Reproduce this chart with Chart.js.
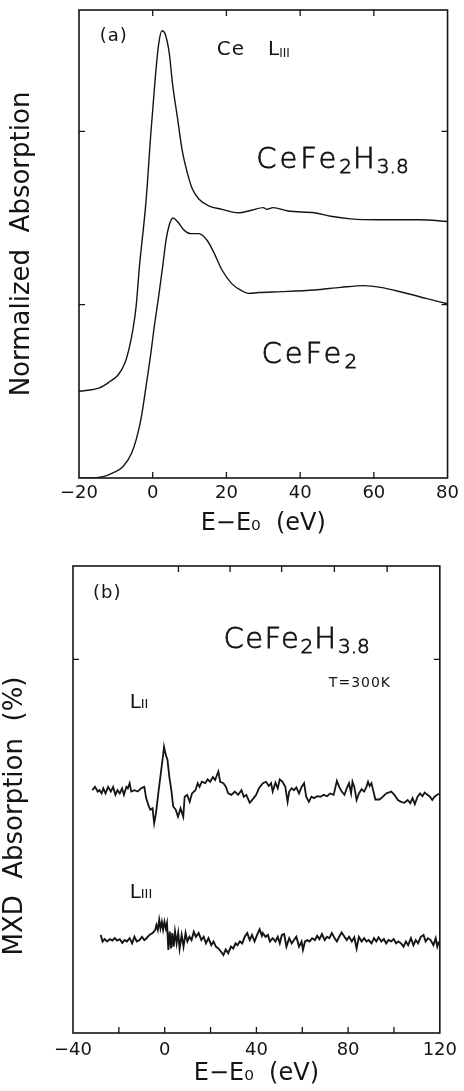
<!DOCTYPE html>
<html>
<head>
<meta charset="utf-8">
<script src="https://cdn.jsdelivr.net/npm/chart.js@4.4.1/dist/chart.umd.min.js"></script>
<style>
  html, body { margin: 0; padding: 0; background: #fff; }
  body { width: 464px; height: 1091px; position: relative; overflow: hidden; }
  .panel { position: absolute; left: 0; width: 464px; }
  #panelA { top: 0; height: 545px; }
  #panelB { top: 545px; height: 546px; }
</style>
</head>
<body>
<div class="panel" id="panelA"><canvas id="chartA"></canvas></div>
<div class="panel" id="panelB"><canvas id="chartB"></canvas></div>
<script>
// (a) Ce L_III edge, normalized absorption vs E - E0 (eV)
const hydrideE  = [-20, -14.4, -11.7, -9.4, -7.6, -6.3, -5.4, -4.5, -3.6, -1.8, -0.5, 0.7, 1.6, 2.5, 3.4,
                   4.5, 5.4, 6.7, 8.0, 9.4, 10.7, 12.5, 15.2, 18.8, 23.3, 26.8, 30.0, 31.0, 32.7, 36.7,
                   43.9, 48.3, 53.7, 61.8, 72.5, 80];
const hydrideMu = [0.50, 0.52, 0.555, 0.594, 0.66, 0.757, 0.853, 0.99, 1.22, 1.60, 1.99, 2.31, 2.50, 2.58, 2.56,
                   2.45, 2.27, 2.08, 1.89, 1.76, 1.67, 1.61, 1.57, 1.55, 1.53, 1.545, 1.56, 1.55, 1.56, 1.54,
                   1.53, 1.51, 1.495, 1.49, 1.49, 1.48];

const cefe2E  = [-20, -17, -13.5, -10.8, -8.1, -5.8, -4.5, -3.1, -1.8, -0.5, 0.4, 1.5, 2.7, 3.6, 4.5,
                 5.5, 6.7, 8.5, 10.3, 12.5, 14.8, 16.6, 18.8, 21.5, 24.2, 26, 28.7, 34.9, 43.9, 51,
                 57.3, 61.8, 68, 74.4, 80];
const cefe2Mu = [0, 0, 0.008, 0.03, 0.065, 0.14, 0.22, 0.35, 0.53, 0.72, 0.87, 1.03, 1.22, 1.37, 1.46,
                 1.50, 1.48, 1.43, 1.41, 1.41, 1.37, 1.30, 1.20, 1.12, 1.08, 1.065, 1.07, 1.075, 1.085, 1.10,
                 1.11, 1.10, 1.07, 1.035, 1.005];

// (b) MXD of CeFe2H3.8 at 300 K, L_II and L_III edges
const l2E = [-31.6, -30.4, -29.2, -28.4, -27.5, -26.8, -25.8, -24.7, -23.5, -22.5,
             -21.5, -20.6, -19.6, -18.6, -17.8, -16.7, -16.1, -15.3, -14.6, -13.2,
             -11.8, -10.3, -8.9, -8.1, -7.1, -6.3, -5.3, -4.6, -3.8, -2.8,
             -1.7, -0.6, -0.3, 0.5, 1.2, 2.0, 2.9, 3.7, 4.8, 5.8,
             6.9, 8.1, 8.7, 9.8, 10.9, 11.9, 13.4, 14.4, 15.2, 16.2,
             17.7, 18.7, 19.8, 21.0, 22.0, 23.4, 24.2, 25.6, 26.7, 27.7,
             29.1, 30.6, 32.0, 33.5, 34.5, 35.6, 37.1, 38.8, 39.9, 41.1,
             42.8, 44.2, 45.4, 46.4, 47.1, 48.3, 49.3, 50.2, 51.4, 52.6,
             53.6, 54.3, 55.4, 56.4, 57.4, 58.6, 59.7, 60.8, 61.7, 62.9,
             64.0, 65.1, 66.5, 67.9, 69.4, 70.8, 72.2, 73.7, 75.1, 76.1,
             77.2, 78.4, 79.4, 80.4, 81.3, 81.9, 82.7, 83.7, 84.7, 85.9,
             87.0, 88.0, 88.7, 89.4, 90.2, 90.9, 91.9, 93.7, 95.2, 96.6,
             98.8, 100.2, 101.7, 103.1, 104.5, 106.0, 107.1, 108.1, 109.1, 110.3,
             111.4, 112.4, 113.4, 114.6, 115.7, 116.7, 117.7, 118.9, 120.0];
const l2V = [5.20, 5.27, 5.17, 5.20, 5.13, 5.24, 5.13, 5.27, 5.17, 5.27,
             5.10, 5.20, 5.13, 5.24, 5.10, 5.27, 5.24, 5.35, 5.17, 5.20,
             5.17, 5.24, 5.27, 5.03, 4.88, 4.78, 4.81, 4.49, 4.71, 5.13,
             5.56, 5.99, 6.13, 5.95, 5.85, 5.49, 5.20, 4.85, 4.78, 4.63,
             4.81, 4.63, 5.06, 5.10, 4.95, 5.13, 5.20, 5.35, 5.27, 5.38,
             5.35, 5.43, 5.38, 5.48, 5.42, 5.60, 5.38, 5.35, 5.27, 5.13,
             5.10, 5.17, 5.10, 5.20, 5.06, 5.10, 4.93, 5.03, 5.10, 5.24,
             5.35, 5.38, 5.29, 5.35, 5.17, 5.36, 5.24, 5.43, 5.38, 5.27,
             4.95, 5.17, 5.24, 5.20, 5.26, 5.13, 5.27, 5.35, 5.06, 4.95,
             5.06, 5.03, 5.07, 5.06, 5.10, 5.07, 5.13, 5.10, 5.40, 5.27,
             5.17, 5.10, 5.24, 5.35, 5.13, 5.38, 5.27, 4.99, 5.13, 5.22,
             5.17, 5.27, 5.38, 5.29, 5.35, 5.20, 5.00, 5.00, 5.06, 5.13,
             5.17, 5.10, 4.99, 4.95, 4.93, 4.99, 4.92, 5.03, 4.90, 5.06,
             5.13, 5.07, 5.15, 5.10, 5.06, 4.99, 5.06, 5.10, 5.13];

const l3E = [-27.9, -27.1, -26.2, -25.1, -23.9, -22.8, -21.8, -20.8, -19.6, -18.5,
             -17.5, -16.5, -15.3, -14.2, -13.2, -12.2, -11.0, -9.9, -8.9, -7.9,
             -6.7, -5.3, -4.1, -3.6, -3.0, -2.4, -1.85, -1.25, -0.7, -0.1,
             0.5, 1.0, 1.6, 2.2, 2.8, 3.3, 3.9, 4.5, 5.2, 5.9,
             6.5, 7.4, 8.2, 9.1, 9.9, 10.8, 11.7, 12.7, 13.6, 14.8,
             16.0, 17.0, 18.0, 19.1, 20.3, 21.3, 22.3, 23.4, 24.6, 25.6,
             26.6, 27.7, 28.9, 29.9, 30.9, 31.7, 32.8, 33.8, 34.9, 36.0,
             37.1, 38.1, 39.2, 40.3, 41.4, 42.4, 42.8, 44.0, 45.0, 45.9,
             47.1, 48.3, 49.3, 50.2, 51.1, 52.1, 53.1, 54.3, 55.4, 56.4,
             57.4, 58.6, 59.7, 60.3, 61.2, 62.2, 63.2, 64.3, 65.5, 66.5,
             67.5, 68.6, 69.8, 70.8, 71.8, 72.9, 74.1, 75.1, 76.1, 77.2,
             78.4, 79.4, 80.4, 81.6, 82.7, 83.7, 84.7, 85.9, 87.0, 88.0,
             89.0, 90.2, 91.3, 92.3, 93.3, 94.5, 95.6, 96.6, 97.6, 98.8,
             99.9, 100.9, 101.9, 103.1, 104.2, 105.2, 106.2, 107.4, 108.5, 109.5,
             110.5, 111.7, 112.9, 113.8, 114.8, 116.0, 117.2, 118.2, 118.9, 119.6];
const l3V = [2.10, 1.96, 2.01, 1.96, 2.01, 1.98, 2.03, 1.98, 2.01, 1.93,
             1.99, 1.96, 2.03, 1.92, 2.06, 1.96, 1.99, 2.06, 1.99, 2.03,
             2.10, 2.14, 2.21, 2.31, 2.21, 2.42, 2.24, 2.38, 2.21, 2.38,
             2.24, 2.35, 1.78, 2.17, 1.81, 2.14, 1.85, 2.17, 1.92, 2.14,
             1.81, 2.10, 1.85, 2.14, 1.96, 2.06, 1.99, 2.17, 2.06, 2.14,
             1.99, 2.06, 1.92, 2.03, 1.88, 1.96, 1.85, 1.81, 1.74, 1.67,
             1.79, 1.71, 1.85, 1.81, 1.92, 1.88, 1.96, 1.92, 2.06, 2.14,
             1.99, 2.10, 1.96, 2.10, 2.22, 2.08, 2.14, 2.06, 2.10, 1.96,
             2.03, 1.96, 2.06, 1.92, 2.10, 2.12, 1.85, 2.03, 1.92, 1.99,
             2.06, 1.85, 1.96, 1.78, 1.96, 1.99, 1.96, 2.03, 1.99, 2.08,
             2.01, 2.12, 1.99, 2.06, 2.03, 2.14, 2.03, 1.96, 2.06, 2.15,
             2.06, 1.99, 2.06, 1.96, 2.05, 1.81, 2.06, 1.96, 2.03, 1.96,
             1.99, 1.92, 2.03, 1.96, 2.05, 1.96, 2.01, 1.92, 1.99, 1.96,
             2.01, 1.92, 1.96, 1.92, 1.85, 1.96, 1.88, 2.03, 1.88, 1.99,
             1.92, 2.06, 2.10, 1.96, 2.03, 1.99, 1.88, 2.03, 1.85, 1.96];

// tick values
const xLabelsA = [-20, 0, 20, 40, 60, 80];
const xMarksA  = [0, 20, 40, 60];
const xTopA    = [0, 20, 40, 60];
const yMarksA  = [1, 2];
const xLabelsB = [-40, 0, 40, 80, 120];
const xMarksB  = [-20, 0, 20, 40, 60, 80, 100];
const xTopB    = [6, 28.5, 51, 74, 97];   // top-edge ticks sit off the bottom grid in the original
const yMarksB  = [8];

const INK = '#141414';
const FONT = '"DejaVu Sans", sans-serif';

const pts = (xs, ys) => xs.map((x, i) => ({ x, y: ys[i] }));
const minus = (v) => (v < 0 ? '\u2212' + Math.abs(v) : String(v));

// box around the plot + short inward ticks on all four sides
const frameTicks = {
  id: 'frameTicks',
  afterDatasetsDraw(chart, args, o) {
    const { ctx, chartArea: a, scales: { x, y } } = chart;
    ctx.save();
    ctx.strokeStyle = INK;
    ctx.lineWidth = 1.6;
    ctx.strokeRect(a.left, a.top, a.right - a.left, a.bottom - a.top);
    ctx.lineWidth = 1.3;
    ctx.beginPath();
    o.bottom.forEach((v) => { const p = x.getPixelForValue(v); ctx.moveTo(p, a.bottom); ctx.lineTo(p, a.bottom - o.len); });
    o.top.forEach((v) => { const p = x.getPixelForValue(v); ctx.moveTo(p, a.top); ctx.lineTo(p, a.top + o.len); });
    o.y.forEach((v) => {
      const p = y.getPixelForValue(v);
      ctx.moveTo(a.left, p); ctx.lineTo(a.left + o.len, p);
      ctx.moveTo(a.right, p); ctx.lineTo(a.right - o.len, p);
    });
    ctx.stroke();
    ctx.restore();
  },
};

// in-plot labels, anchored in data units
// parts = [text, size, baseline shift, letter spacing]; thin = light face with a hairline outline
const textMarks = {
  id: 'textMarks',
  afterDraw(chart, args, o) {
    const { ctx, scales: { x, y } } = chart;
    ctx.save();
    ctx.fillStyle = INK;
    ctx.strokeStyle = INK;
    ctx.lineWidth = 0.8;
    ctx.textAlign = 'left';
    ctx.textBaseline = 'alphabetic';
    for (const it of o.items) {
      let cx = x.getPixelForValue(it.x);
      const by = y.getPixelForValue(it.y);
      for (const [t, size, dy = 0, ls = 0] of it.parts) {
        ctx.font = `${it.thin ? 200 : 400} ${size}px ${FONT}`;
        ctx.letterSpacing = ls + 'px';
        ctx.fillText(t, cx, by + dy);
        if (it.thin) ctx.strokeText(t, cx, by + dy);
        cx += ctx.measureText(t).width;
      }
    }
    ctx.restore();
  },
};

const line = (data, width, smooth) => ({
  data, borderColor: INK, borderWidth: width, pointRadius: 0,
  cubicInterpolationMode: smooth ? 'monotone' : 'default', tension: 0,
});

function xScale(min, max, labels, height, pad, titlePad) {
  return {
    type: 'linear', min, max,
    afterBuildTicks: (s) => { s.ticks = labels.map((value) => ({ value })); },
    afterFit: (s) => { s.height = height; },
    grid: { display: false, drawTicks: false },
    border: { display: false },
    ticks: { color: INK, font: { family: FONT, size: 18 }, padding: pad, maxRotation: 0, autoSkip: false,
             callback: (v) => minus(v) },
    title: { display: true, text: 'E\u2212E\u2080  (eV)', color: INK,
             font: { family: FONT, size: 24 }, padding: { top: 0, bottom: titlePad } },
  };
}

function yScale(min, max, title, width, titlePad) {
  return {
    type: 'linear', min, max,
    afterFit: (s) => { s.width = width; },
    grid: { display: false, drawTicks: false },
    border: { display: false },
    ticks: { display: false },
    title: { display: true, text: title, color: INK,
             font: { family: FONT, size: 26 }, padding: { top: titlePad, bottom: 0 } },
  };
}

const common = {
  responsive: true, maintainAspectRatio: false, animation: false,
  plugins: { legend: { display: false }, tooltip: { enabled: false } },
};

new Chart(document.getElementById('chartA'), {
  type: 'line',
  data: { datasets: [line(pts(hydrideE, hydrideMu), 1.4, true), line(pts(cefe2E, cefe2Mu), 1.4, true)] },
  options: {
    ...common,
    layout: { padding: { top: 10, right: 12, bottom: 0, left: 0 } },
    scales: {
      x: xScale(-20, 80, xLabelsA, 67, 5, 7),
      y: yScale(0, 2.7, 'Normalized  Absorption', 79, 7),
    },
    plugins: {
      ...common.plugins,
      frameTicks: { bottom: xMarksA, top: xTopA, y: yMarksA, len: 6 },
      textMarks: { items: [
        { x: -14.4, y: 2.52, parts: [['(a)', 18, 0, 1]] },
        { x: 17.4, y: 2.44, parts: [['Ce', 20, 0, 1]] },
        { x: 31.3, y: 2.44, parts: [['L', 20], ['III', 12, 2]] },
        { x: 28.1, y: 1.787, thin: true,
          parts: [['CeFe', 29, 0, 3], ['2', 20, 5, 1], ['H', 29, 0, 2], ['3.8', 20, 5, 0]] },
        { x: 29.5, y: 0.663, thin: true, parts: [['CeFe', 29, 0, 3], ['2', 20, 5, 1]] },
      ] },
    },
  },
  plugins: [frameTicks, textMarks],
});

new Chart(document.getElementById('chartB'), {
  type: 'line',
  data: { datasets: [line(pts(l2E, l2V), 1.8, false), line(pts(l3E, l3V), 1.9, false)] },
  options: {
    ...common,
    layout: { padding: { top: 21, right: 19, bottom: 0, left: 0 } },
    scales: {
      x: xScale(-40, 120, xLabelsB, 58, 7, 3),
      y: yScale(0, 10, 'MXD  Absorption  (%)    ', 73, 0),
    },
    plugins: {
      ...common.plugins,
      frameTicks: { bottom: xMarksB, top: xTopB, y: yMarksB, len: 6 },
      textMarks: { items: [
        { x: -31.3, y: 9.31, parts: [['(b)', 18, 0, 1]] },
        { x: 25.6, y: 8.24, thin: true,
          parts: [['CeFe', 29, 0, 1.5], ['2', 20, 5, 1], ['H', 29, 0, 2], ['3.8', 20, 5, 0]] },
        { x: 71.6, y: 7.41, parts: [['T=300K', 14, 0, 1]] },
        { x: -15.3, y: 6.96, parts: [['L', 20], ['II', 13]] },
        { x: -15.3, y: 2.89, parts: [['L', 20], ['III', 13]] },
      ] },
    },
  },
  plugins: [frameTicks, textMarks],
});
</script>
</body>
</html>
